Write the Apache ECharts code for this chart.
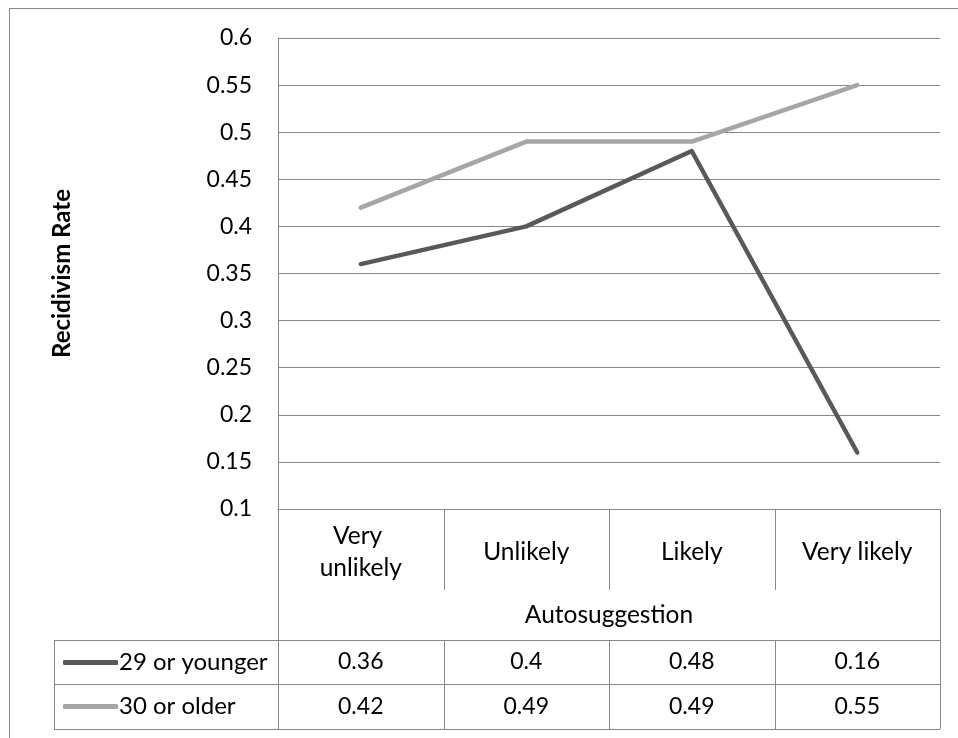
<!DOCTYPE html>
<html>
<head>
<meta charset="utf-8">
<script src="https://cdn.jsdelivr.net/npm/echarts@6/dist/echarts.min.js"></script>
<style>
  html, body { margin: 0; padding: 0; background: #fff; }
  #chart { width: 958px; height: 738px; }
</style>
</head>
<body>
<div id="chart"></div>
<script>
// Recidivism rate by autosuggestion level, split by age group
const categories = ['Very unlikely', 'Unlikely', 'Likely', 'Very likely'];
const seriesNames = ['29 or younger', '30 or older'];
const younger = [0.36, 0.4, 0.48, 0.16];
const older = [0.42, 0.49, 0.49, 0.55];
const seriesValues = [younger, older];
const seriesColors = ['#595959', '#a6a6a6'];
const xAxisTitle = 'Autosuggestion';
const yAxisTitle = 'Recidivism Rate';

const FONT = 'Lato';
const FS_TEXT = 24.5;   // words
const FS_NUM = 23;      // numbers
const GRID_COLOR = '#878787';

// plot frame
const L = 278, R = 940, T = 38, B = 509;
const W = (R - L) / 4;
// data table rows below the axis
const headerBottom = 590;
const rowTops = [640, 684];
const tableBottom = 729;
const legendLeft = 54;

const chart = echarts.init(document.getElementById('chart'));

function hLine(x1, x2, y) {
  return { type: 'line', shape: { x1: x1, y1: y + 0.5, x2: x2, y2: y + 0.5 },
           style: { stroke: GRID_COLOR, lineWidth: 1 }, silent: true };
}
function vLine(x, y1, y2) {
  return { type: 'line', shape: { x1: x + 0.5, y1: y1, x2: x + 0.5, y2: y2 },
           style: { stroke: GRID_COLOR, lineWidth: 1 }, silent: true };
}

const graphics = [];
// outer chart border
graphics.push({ type: 'rect', shape: { x: 9.5, y: 8.5, width: 970, height: 760 },
  style: { fill: 'none', stroke: GRID_COLOR, lineWidth: 1 }, silent: true });
// table grid
graphics.push(vLine(L, B, tableBottom));
graphics.push(vLine(R, B, tableBottom));
for (let i = 1; i < categories.length; i++) {
  const x = Math.round(L + i * W);
  graphics.push(vLine(x, B, headerBottom));
  graphics.push(vLine(x, rowTops[0], tableBottom));
}
rowTops.concat([tableBottom]).forEach(y => graphics.push(hLine(legendLeft, R, y)));
graphics.push(vLine(legendLeft, rowTops[0], tableBottom));
// table values
seriesValues.forEach((vals, s) => {
  const top = rowTops[s];
  const bottom = s + 1 < rowTops.length ? rowTops[s + 1] : tableBottom;
  vals.forEach((v, i) => {
    graphics.push({
      type: 'text', silent: true,
      x: L + (i + 0.5) * W, y: (top + bottom) / 2,
      style: { text: String(v), fill: '#000', font: FS_NUM + 'px ' + FONT,
               textAlign: 'center', textVerticalAlign: 'middle' }
    });
  });
});

chart.setOption({
  animation: false,
  grid: { left: L, right: 958 - R, top: T, bottom: 738 - B, containLabel: false },
  legend: {
    orient: 'vertical', left: 58, top: 645,
    itemWidth: 55, itemHeight: 5, itemGap: 19,
    icon: 'roundRect',
    data: seriesNames,
    textStyle: { fontFamily: FONT, fontSize: 24, color: '#000', lineHeight: 25,
                 padding: [0, 0, 0, -4] }
  },
  xAxis: {
    type: 'category', data: categories, boundaryGap: true,
    axisLine: { show: true, lineStyle: { color: GRID_COLOR, width: 1 } },
    axisTick: { show: false },
    axisLabel: {
      interval: 0, hideOverlap: false,
      margin: 43, verticalAlign: 'middle', width: 135, overflow: 'break',
      fontFamily: FONT, fontSize: FS_TEXT, color: '#000', lineHeight: 32, align: 'center'
    },
    name: xAxisTitle, nameLocation: 'middle', nameGap: 106,
    nameTextStyle: { fontFamily: FONT, fontSize: FS_TEXT, color: '#000', verticalAlign: 'middle' }
  },
  yAxis: {
    type: 'value', min: 0.1, max: 0.6, interval: 0.05,
    axisLine: { show: true, lineStyle: { color: GRID_COLOR, width: 1 } },
    axisTick: { show: false },
    splitLine: { show: true, lineStyle: { color: GRID_COLOR, width: 1 } },
    axisLabel: { margin: 26, fontFamily: FONT, fontSize: FS_NUM, color: '#000' },
    name: yAxisTitle, nameLocation: 'middle', nameGap: 204, nameRotate: 90,
    nameTextStyle: { fontFamily: FONT, fontSize: 24, fontWeight: 'bold', color: '#000' }
  },
  series: seriesNames.map((name, s) => ({
    name: name, type: 'line', data: seriesValues[s],
    symbol: 'none', color: seriesColors[s],
    lineStyle: { color: seriesColors[s], width: 4.5, cap: 'round', join: 'round' }
  })),
  graphic: graphics
});
</script>
</body>
</html>
